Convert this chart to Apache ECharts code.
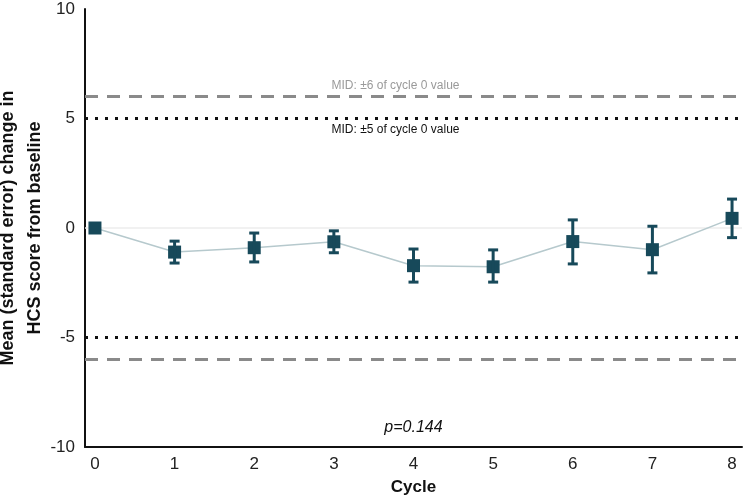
<!DOCTYPE html>
<html><head><meta charset="utf-8">
<script src="https://cdn.jsdelivr.net/npm/echarts@6/dist/echarts.min.js"></script>
<style>html,body{margin:0;padding:0;background:#fff}#c{width:744px;height:497px}</style>
</head><body><div id="c"></div>
<script>
const cycles = [0, 1, 2, 3, 4, 5, 6, 7, 8];
const means = [0, -1.1, -0.9, -0.63, -1.72, -1.77, -0.62, -0.99, 0.44];
const lowErr = [null, -1.6, -1.55, -1.13, -2.47, -2.47, -1.64, -2.05, -0.44];
const highErr = [null, -0.6, -0.23, -0.13, -0.96, -1.0, 0.37, 0.08, 1.32];
const yTicks = [-10, -5, 0, 5, 10];
const midOuter = 6;
const midInner = 5;
const pText = 'p=0.144';
const pPos = [4, -9.1];

const dark = '#17495a';
const chart = echarts.init(document.getElementById('c'));
const errData = cycles.map((c, i) => lowErr[i] == null ? null : [c, lowErr[i], highErr[i]]).filter(d => d);

chart.setOption({
  animation: false,
  textStyle: { fontFamily: 'Liberation Sans, Arial, sans-serif' },
  grid: { left: 85, right: 2, top: 9, bottom: 50, containLabel: false, outerBoundsMode: 'none' },
  xAxis: {
    type: 'value', min: -0.125, max: 8.125,
    axisLine: { onZero: false, lineStyle: { color: '#111', width: 2 } },
    axisTick: { show: false },
    splitLine: { show: false },
    axisLabel: { customValues: cycles, color: '#222', fontSize: 17, margin: 9 },
    name: 'Cycle', nameLocation: 'middle', nameGap: 32, nameMoveOverlap: false,
    nameTextStyle: { fontWeight: 'bold', fontSize: 17, color: '#111' }
  },
  yAxis: {
    type: 'value', min: -10, max: 10, interval: 5,
    axisLine: { show: true, onZero: false, lineStyle: { color: '#111', width: 2 } },
    axisTick: { show: false },
    splitLine: { show: false },
    axisLabel: { customValues: yTicks, color: '#222', fontSize: 17, margin: 10 },
    name: 'Mean (standard error) change in\nHCS score from baseline',
    nameLocation: 'middle', nameGap: 36, nameMoveOverlap: false,
    nameTextStyle: { fontWeight: 'bold', fontSize: 18, color: '#111', lineHeight: 27 }
  },
  series: [
    {
      type: 'line',
      data: cycles.map((c, i) => [c, means[i]]),
      symbol: 'rect', symbolSize: 13,
      itemStyle: { color: dark },
      lineStyle: { color: '#b6c9cd', width: 1.5 },
      z: 5,
      markLine: {
        silent: true, symbol: 'none',
        data: [
          { yAxis: 0, lineStyle: { color: '#ededed', width: 1.5, type: 'solid' }, label: { show: false } },
          { yAxis: midOuter, lineStyle: { color: '#8a8a8a', width: 3, type: [13, 9] },
            label: { show: true, position: 'insideMiddleTop', formatter: 'MID: \u00b16 of cycle 0 value', color: '#9a9a9a', fontSize: 12, offset: [-18, 0] } },
          { yAxis: -midOuter, lineStyle: { color: '#8a8a8a', width: 3, type: [13, 9] }, label: { show: false } },
          { yAxis: midInner, lineStyle: { color: '#111', width: 3, type: [3, 7] },
            label: { show: true, position: 'insideMiddleBottom', formatter: 'MID: \u00b15 of cycle 0 value', color: '#111', fontSize: 12, offset: [-18, 0] } },
          { yAxis: -midInner, lineStyle: { color: '#111', width: 3, type: [3, 7] }, label: { show: false } }
        ]
      },
      markPoint: {
        silent: true, symbol: 'rect', symbolSize: 0,
        data: [{ coord: pPos, label: { show: true, formatter: pText, fontStyle: 'italic', fontSize: 16, color: '#111', position: 'inside' } }]
      }
    },
    {
      type: 'custom',
      data: errData,
      z: 6,
      renderItem: function (params, api) {
        const x = api.value(0);
        const lo = api.coord([x, api.value(1)]);
        const hi = api.coord([x, api.value(2)]);
        const hw = 5;
        const st = { stroke: dark, lineWidth: 3 };
        return {
          type: 'group',
          children: [
            { type: 'line', shape: { x1: lo[0], y1: lo[1], x2: hi[0], y2: hi[1] }, style: st },
            { type: 'line', shape: { x1: lo[0] - hw, y1: lo[1], x2: lo[0] + hw, y2: lo[1] }, style: st },
            { type: 'line', shape: { x1: hi[0] - hw, y1: hi[1], x2: hi[0] + hw, y2: hi[1] }, style: st }
          ]
        };
      }
    }
  ]
});
</script></body></html>
